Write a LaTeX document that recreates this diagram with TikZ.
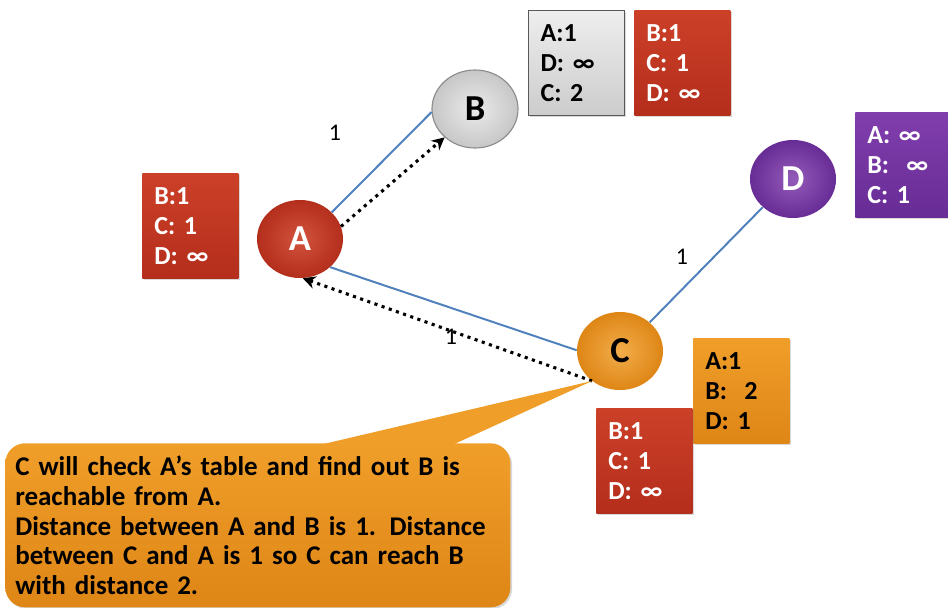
\documentclass[tikz,border=0pt]{standalone}
\usepackage{fontspec}
\setmainfont{Carlito}
\usetikzlibrary{calc,positioning,arrows.meta,shapes.geometric,shadows}

\definecolor{dvredtop}{RGB}{204,64,40}
\definecolor{dvredbot}{RGB}{180,46,28}
\definecolor{dvorangetop}{RGB}{240,158,42}
\definecolor{dvorangebot}{RGB}{222,134,22}
\definecolor{dvpurpletop}{RGB}{128,62,172}
\definecolor{dvpurplebot}{RGB}{104,44,150}
\definecolor{dvgraytop}{RGB}{238,238,238}
\definecolor{dvgraybot}{RGB}{204,204,204}
\definecolor{dvlink}{RGB}{79,129,189}
\newcommand\dvtight{\spaceskip=0.2em\relax}

\begin{document}
\begin{tikzpicture}[
  x=0.025cm, y=-0.025cm,
  softshadow/.style={drop shadow={shadow xshift=1.2pt,shadow yshift=-1.2pt,opacity=.3}},
  table/.style={rectangle,inner xsep=0.3cm,inner ysep=0pt,text width=1.8cm,minimum height=2.625cm,align=left,anchor=north west,font=\fontsize{18.5}{21.3}\selectfont\bfseries\dvtight,softshadow},
  table_red/.style={table,top color=dvredtop,bottom color=dvredbot,text=white},
  table_gray/.style={table,top color=dvgraytop,bottom color=dvgraybot,draw=black!65,thick,text=black},
  table_orange/.style={table,top color=dvorangetop,bottom color=dvorangebot,text=black},
  table_purple/.style={table,top color=dvpurpletop,bottom color=dvpurplebot,text=white},
  router/.style={ellipse,minimum width=2.15cm,minimum height=1.95cm,inner sep=0pt,font=\fontsize{26}{26}\selectfont\bfseries},
  link/.style={dvlink,line width=1.4pt},
  msg/.style={black,line width=2.2pt,dash pattern=on 2.2pt off 3.2pt,-{Stealth[length=9pt,width=9pt]}},
  weight/.style={font=\fontsize{17}{17}\selectfont},
  callout_box/.style={rectangle,rounded corners=0.5cm,anchor=north west,inner xsep=0.25cm,inner ysep=0pt,text width=12.125cm,minimum height=4.1cm,align=left,top color=dvorangetop,bottom color=dvorangebot,font=\fontsize{19.2}{21.3}\selectfont\bfseries\dvtight,softshadow}
  ]

  \fill[white] (0,0) rectangle (948,607);
  \useasboundingbox (0,0) rectangle (948,607);

%routers
  \node (A) [router,inner color=dvredtop!90!white,outer color=dvredbot,text=white] at(300,239) {A};
  \node (B) [router,inner color=white!92!black,outer color=black!22,draw=black!45,thick] at(475,109) {B};
  \node (C) [router,inner color=dvorangetop!85!white,outer color=dvorangebot] at(620,351) {C};
  \node (D) [router,inner color=dvpurpletop!85!white,outer color=dvpurplebot,text=white] at(793,179) {D};

%links
  \draw[link] (A.40) -- (B.184);
  \draw[link] (A.-43) -- (C.179);
  \draw[link] (C.44) -- (D.223);

  \node (w_AB) [weight] at(335,133) {1};
  \node (w_CD) [weight] at(682,257) {1};
  \node (w_AC) [weight] at(451,337) {1};

%updates
  \draw[msg] (A.17) -- (B.223);
  \draw[msg] (C.227) -- (A.-86);

%tables
  \node (table_B_recv) [table_gray] at(528,10) {A:1\\D: ∞\\C: 2};
  \node (table_B) [table_red] at(634,10) {B:1\\C: 1\\D: ∞};
  \node (table_D) [table_purple,text width=1.9cm] at(855,112) {A: ∞\\B:~ ∞\\C: 1};
  \node (table_A) [table_red] at(142,173) {B:1\\C: 1\\D: ∞};
  \node (table_C) [table_orange] at(693,338) {A:1\\B:~ 2\\D: 1};
  \node (table_C_recv) [table_red] at(596,408) {B:1\\C: 1\\D: ∞};

%callout
  \coordinate (C_tip) at(C.227);
  \fill[dvorangetop] (315,446) -- (C_tip) -- (450,446) -- cycle;
  \node (callout) [callout_box] at(5,443) {C will check A’s table and find out B is\\reachable from A.\\Distance between A and B is 1. Distance\\between C and A is 1 so C can reach B\\with distance 2.};

\end{tikzpicture}
\end{document}
